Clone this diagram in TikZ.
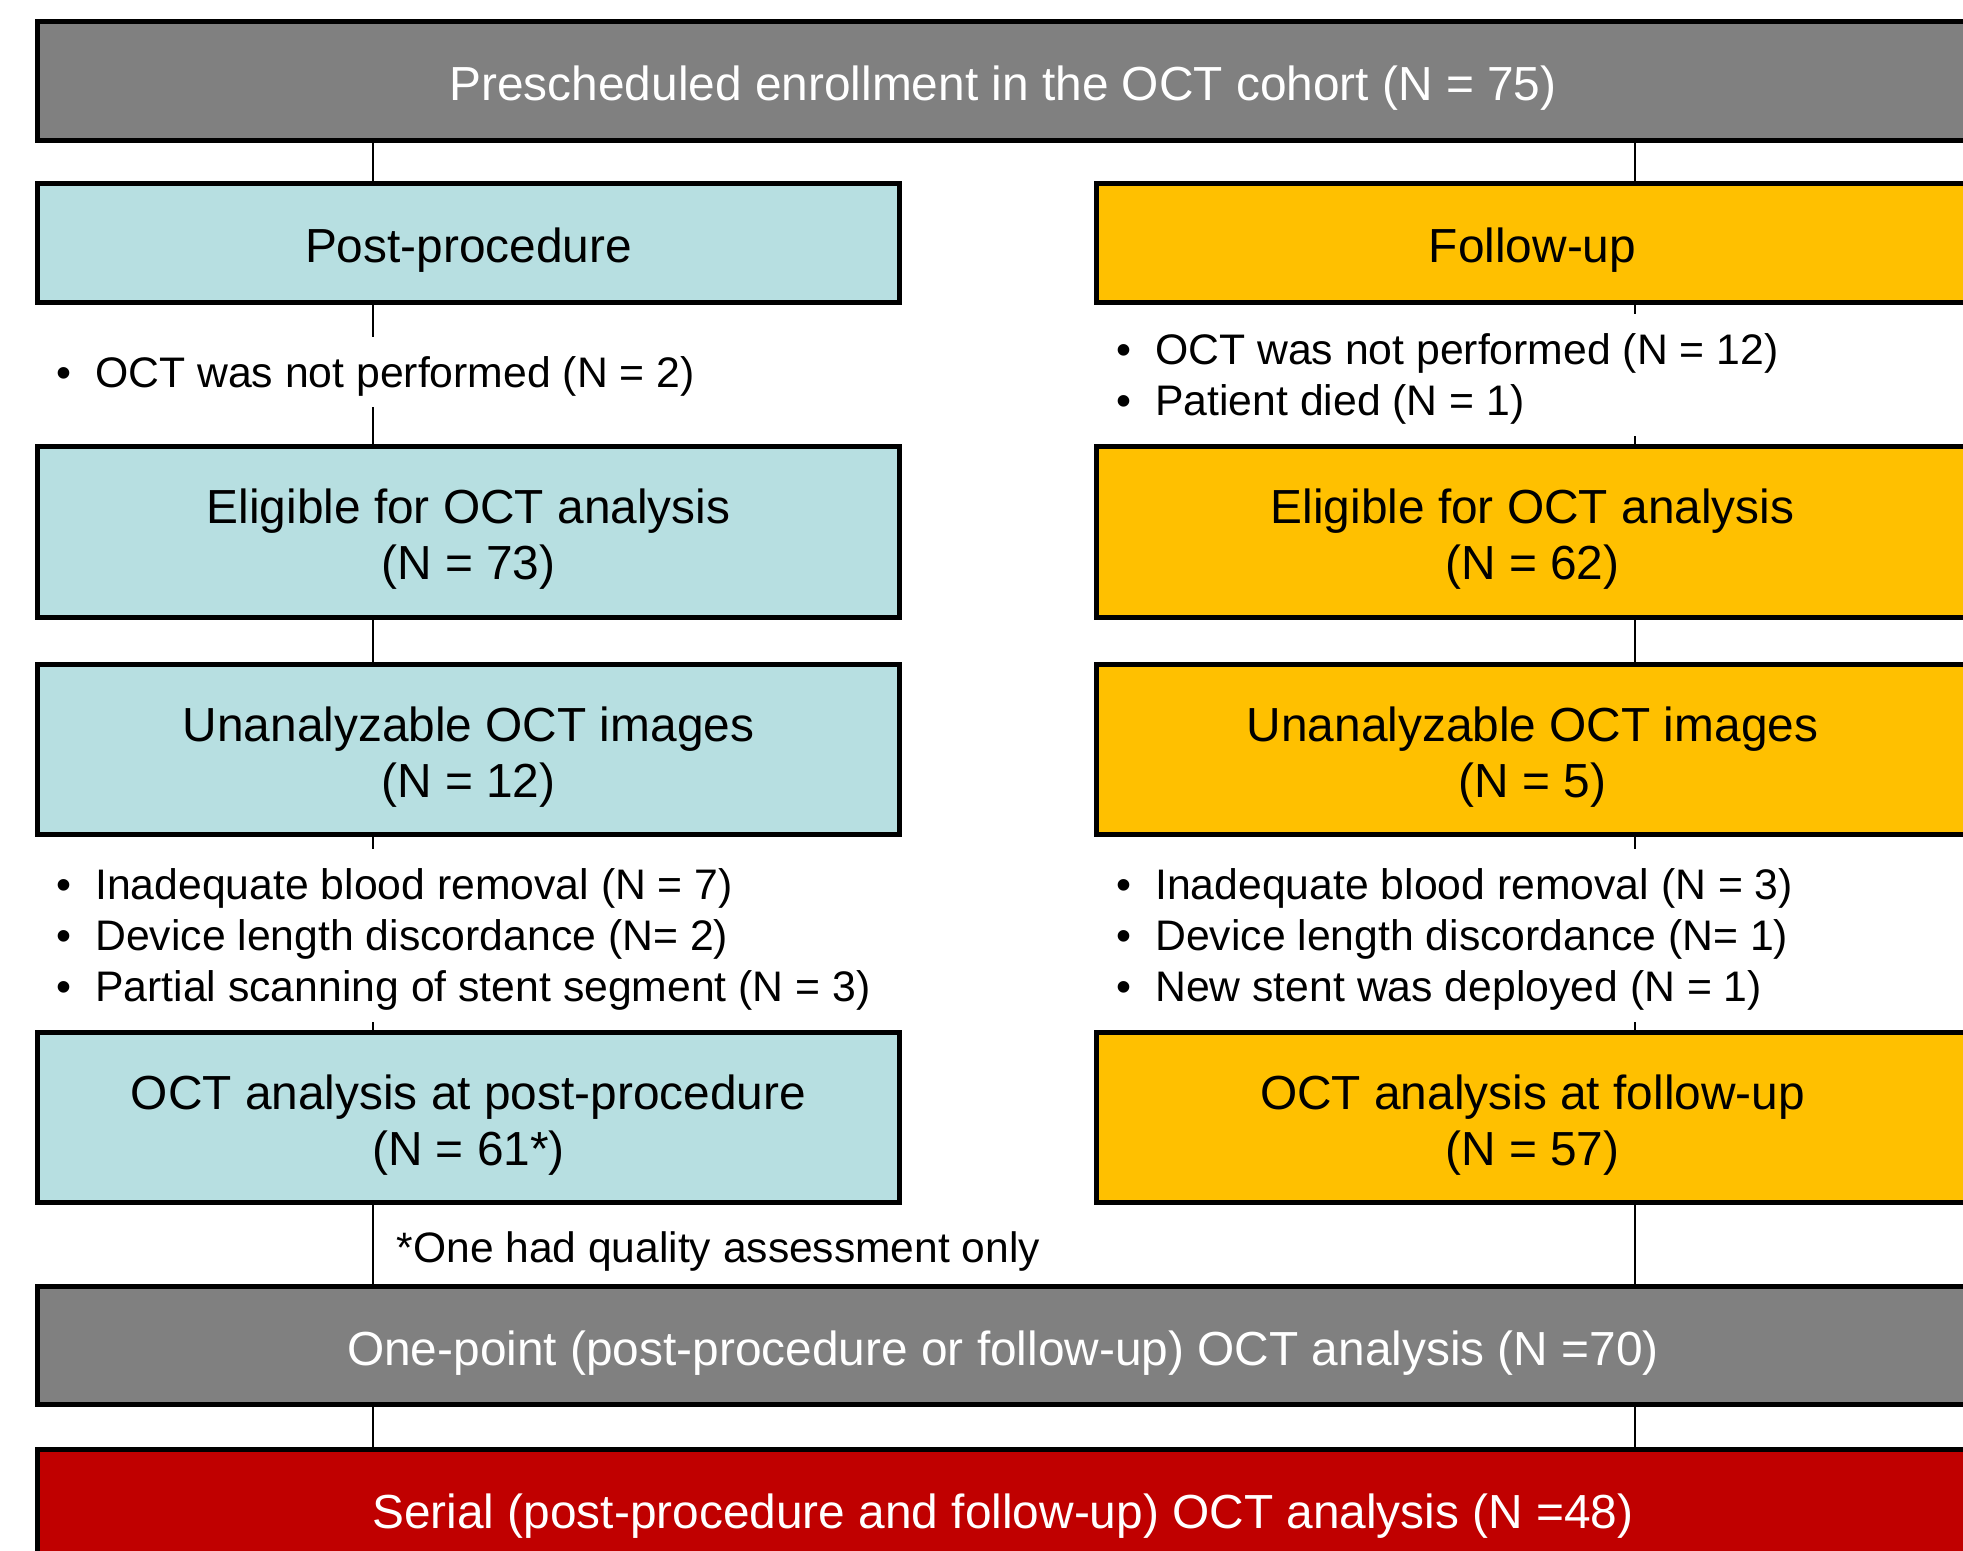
\documentclass[tikz,border=0pt]{standalone}
\usepackage{fontspec}
\setmainfont{Liberation Sans}
\usetikzlibrary{backgrounds}
\definecolor{greybox}{RGB}{128,128,128}
\definecolor{bluebox}{RGB}{183,223,225}
\definecolor{orangebox}{RGB}{255,192,0}
\definecolor{redbox}{RGB}{192,0,0}
\newcommand\blt{\makebox[0.385cm][l]{•}}
\begin{document}
\begin{tikzpicture}[x=0.01cm,y=-0.01cm,
  box/.style={draw=black, line width=0.05cm, inner sep=0pt, align=center,
    font=\fontsize{13.6pt}{15.9pt}\selectfont, text height=11.16pt, text depth=0pt},
  twolines/.style={text height=27.06pt},
  bluecell/.style={box, fill=bluebox, minimum width=8.61cm},
  orangecell/.style={box, fill=orangebox, minimum width=8.71cm},
  widecell/.style={box, minimum width=19.30cm, minimum height=1.18cm, text=white},
  notes/.style={fill=white, inner xsep=0pt, inner ysep=0.2cm, anchor=west, align=left,
    font=\fontsize{12.15pt}{14.5pt}\selectfont, text height=8.7pt, text depth=0pt},
  notes2/.style={notes, text height=23.2pt},
  notes3/.style={notes, text height=37.7pt},
  conn/.style={draw=black, line width=0.02cm}]
\useasboundingbox (0,0) rectangle (1963,1550);

\node[widecell, fill=greybox] (top) at (1003,81) {Prescheduled enrollment in the OCT cohort (N = 75)};

\node[bluecell, minimum height=1.18cm] (post) at (468.5,243) {Post-procedure};
\node[orangecell, minimum height=1.18cm] (follow) at (1532.5,243) {Follow-up};

\node[bluecell, twolines, minimum height=1.70cm] (elig1) at (468.5,532) {Eligible for OCT analysis\\(N = 73)};
\node[orangecell, twolines, minimum height=1.70cm] (elig2) at (1532.5,532) {Eligible for OCT analysis\\(N = 62)};

\node[bluecell, twolines, minimum height=1.69cm] (unan1) at (468.5,749.5) {Unanalyzable OCT images\\(N = 12)};
\node[orangecell, twolines, minimum height=1.69cm] (unan2) at (1532.5,749.5) {Unanalyzable OCT images\\(N = 5)};

\node[bluecell, twolines, minimum height=1.69cm] (ana1) at (468.5,1117.5) {OCT analysis at post-procedure\\(N = 61*)};
\node[orangecell, twolines, minimum height=1.69cm] (ana2) at (1532.5,1117.5) {OCT analysis at follow-up\\(N = 57)};

\node[widecell, fill=greybox] (one) at (1003,1345.5) {One-point (post-procedure or follow-up) OCT analysis (N =70)};
\node[widecell, fill=redbox] (serial) at (1003,1509) {Serial (post-procedure and follow-up) OCT analysis (N =48)};

\node[notes] (n1) at (56,372) {\blt OCT was not performed (N = 2)};
\node[notes2] (n2) at (1116,375) {\blt OCT was not performed (N = 12)\\\blt Patient died (N = 1)};
\node[notes3] (n3) at (56,935.5) {\blt Inadequate blood removal (N = 7)\\\blt Device length discordance (N= 2)\\\blt Partial scanning of stent segment (N = 3)};
\node[notes3] (n4) at (1116,935.5) {\blt Inadequate blood removal (N = 3)\\\blt Device length discordance (N= 1)\\\blt New stent was deployed (N = 1)};

\node[anchor=west, inner sep=0pt, font=\fontsize{12.1pt}{14pt}\selectfont, text height=8.66pt, text depth=0pt] (foot) at (396,1247) {*One had quality assessment only};

\coordinate (L) at (373,0);
\coordinate (R) at (1635,0);

\begin{scope}[on background layer]
\draw[conn] (top.south -| L) -- (post.north -| L);
\draw[conn] (top.south -| R) -- (follow.north -| R);
\draw[conn] (post.south -| L) -- (elig1.north -| L);
\draw[conn] (follow.south -| R) -- (elig2.north -| R);
\draw[conn] (elig1.south -| L) -- (unan1.north -| L);
\draw[conn] (elig2.south -| R) -- (unan2.north -| R);
\draw[conn] (unan1.south -| L) -- (ana1.north -| L);
\draw[conn] (unan2.south -| R) -- (ana2.north -| R);
\draw[conn] (ana1.south -| L) -- (one.north -| L);
\draw[conn] (ana2.south -| R) -- (one.north -| R);
\draw[conn] (one.south -| L) -- (serial.north -| L);
\draw[conn] (one.south -| R) -- (serial.north -| R);
\end{scope}
\end{tikzpicture}
\end{document}
